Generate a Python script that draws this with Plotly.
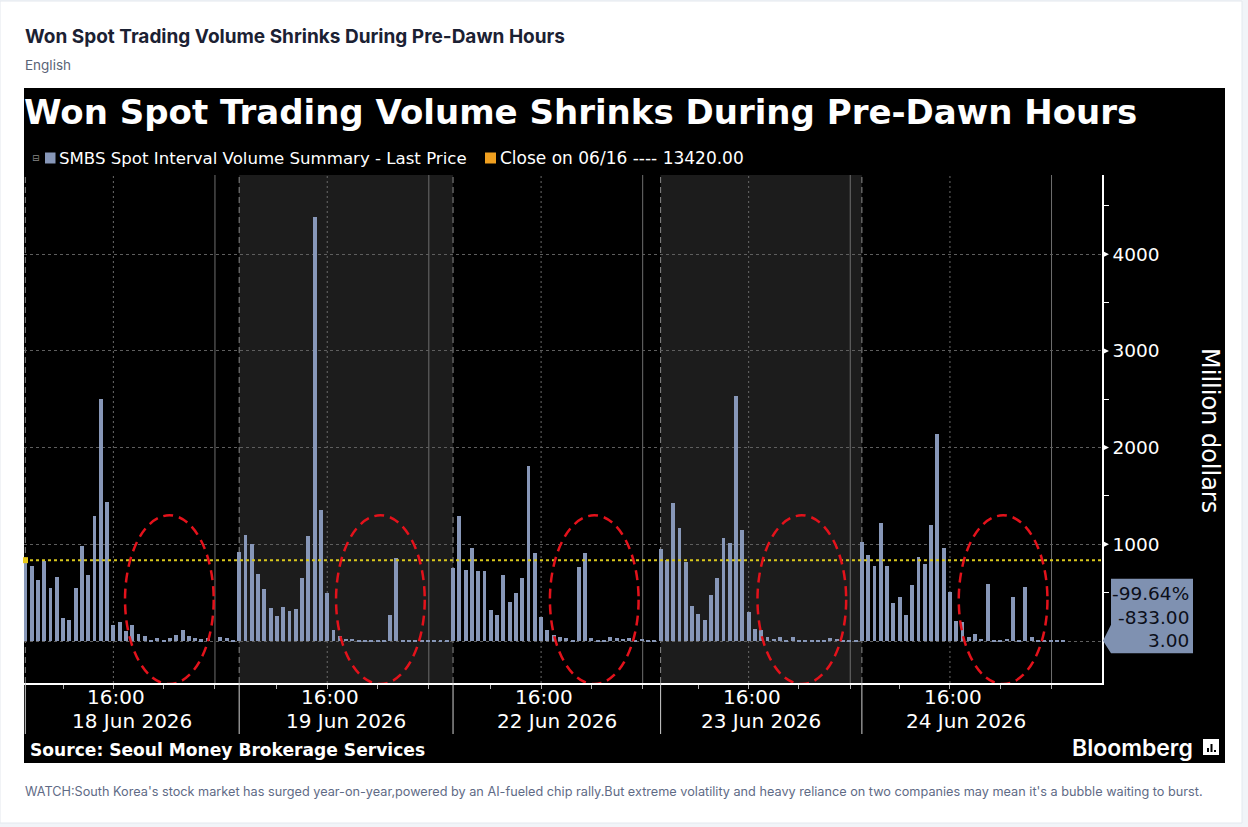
import plotly.graph_objects as go

# ---------------- data ----------------
day_labels = ["18 Jun 2026", "19 Jun 2026", "22 Jun 2026", "23 Jun 2026", "24 Jun 2026"]
vol_18jun = [820, 773, 629, 832, 546, 660, 240, 220, 546, 983, 684, 1292, 2505, 1433, 165, 192, 106,
             161, 72, 48, 11, 30, 10, 30, 58, 113, 48, 30, 20, 34, 0, 41, 30, 3]
vol_19jun = [917, 1093, 1000, 691, 536, 340, 258, 351, 309, 330, 649, 1082, 4381, 1350, 495, 113, 52,
             21, 21, 3, 2, 2, 5, 2, 268, 856, 2, 2, 5, 3, 2, 2, 2, 2]
vol_22jun = [756, 1289, 732, 962, 722, 722, 320, 271, 680, 402, 495, 649, 1814, 907, 251, 113, 62,
             41, 31, 3, 763, 907, 31, 14, 14, 41, 31, 24, 31, 14, 24, 3, 14]
vol_23jun = [948, 835, 1423, 1165, 814, 361, 278, 216, 474, 649, 1062, 1010, 2536, 1144, 299, 124, 113,
             41, 21, 41, 10, 41, 3, 3, 3, 3, 3, 31, 21, 3, 3, 3]
vol_24jun = [1021, 887, 773, 1216, 773, 392, 454, 268, 577, 866, 794, 1196, 2144, 959, 505, 206, 196,
             41, 72, 21, 588, 3, 3, 21, 454, 10, 557, 41, 10, 3, 10, 3, 3]
shaded_days = [False, True, False, True, False]
close_level = 836.0
close_label = "Close on 06/16 ---- 13420.00"
series_label = "SMBS Spot Interval Volume Summary - Last Price"
time_label = "16:00"
y_tick_vals = [0, 1000, 2000, 3000, 4000]
y_minor_vals = [500, 1500, 2500, 3500, 4500]

days = [vol_18jun, vol_19jun, vol_22jun, vol_23jun, vol_24jun]

# ---------------- layout geometry ----------------
W, H = 1248, 827
PL, PR, PT, PB = 24, 1102, 175, 683          # plot area in pixels
SLOT = 6.29
X0 = -0.21
X1 = X0 + (PR - PL) / SLOT
Y0, Y1 = -434, 4819
YPX = (PB - PT) / (Y1 - Y0)                   # px per data unit


def pxx(px):
    return (px - PL) / (PR - PL)


def pxy(py):
    return (PB - py) / (PB - PT)


# build x positions
xs, ys, starts = [], [], []
pos = 0
for vals in days:
    starts.append(pos)
    for i, v in enumerate(vals):
        xs.append(pos + i)
        ys.append(v)
    pos += len(vals)
ends = starts[1:] + [pos + 1]

fig = go.Figure()
fig.add_trace(go.Bar(x=xs, y=ys, width=0.62, marker=dict(color="#8797b8", line=dict(width=0)),
                     showlegend=False, hoverinfo="skip"))

shapes = []
# card + black panel
shapes.append(dict(type="rect", xref="paper", yref="paper", x0=pxx(0), x1=pxx(1242), y0=pxy(823), y1=pxy(1),
                   fillcolor="white", line=dict(color="#e3e8ee", width=1), layer="below"))
shapes.append(dict(type="rect", xref="paper", yref="paper", x0=pxx(24), x1=pxx(1225), y0=pxy(763), y1=pxy(88),
                   fillcolor="black", line=dict(width=0), layer="below"))
# shaded days
for s, e, sh in zip(starts, ends, shaded_days):
    if sh:
        shapes.append(dict(type="rect", xref="x", yref="paper", x0=s, x1=e, y0=0, y1=1,
                           fillcolor="#1c1c1c", line=dict(width=0), layer="below"))
# vertical lines
for s in starts:
    shapes.append(dict(type="line", xref="x", yref="paper", x0=s, x1=s, y0=0, y1=1,
                       line=dict(color="#8a8a8a", width=1, dash="6px,4px"), layer="below"))
    shapes.append(dict(type="line", xref="x", yref="paper", x0=s + 14, x1=s + 14, y0=0, y1=1,
                       line=dict(color="#6a6a6a", width=1, dash="2px,3px"), layer="below"))
    shapes.append(dict(type="line", xref="x", yref="paper", x0=s + 30.15, x1=s + 30.15, y0=0, y1=1,
                       line=dict(color="#6e6e6e", width=1), layer="below"))
    # separators in the label area
    shapes.append(dict(type="line", xref="x", yref="paper", x0=s, x1=s, y0=pxy(734), y1=0,
                       line=dict(color="#d0d0d0", width=1), layer="above"))

# close line
shapes.append(dict(type="line", xref="paper", yref="y", x0=0, x1=1, y0=close_level, y1=close_level,
                   line=dict(color="#d9c81c", width=2, dash="dot"), layer="above"))
shapes.append(dict(type="rect", xref="paper", yref="y", x0=pxx(23), x1=pxx(28),
                   y0=close_level - 3 / YPX, y1=close_level + 3 / YPX,
                   fillcolor="#e8c81a", line=dict(width=0), layer="above"))

# red dashed ellipses over the pre-dawn hours
for k, s in enumerate(starts):
    off = 0.45 if k == 0 else 0.0
    shapes.append(dict(type="circle", xref="x", yref="y", x0=s + 15.4 + off, x1=s + 29.5 + off, y0=-445, y1=1300,
                       line=dict(color="#e3121b", width=2.5, dash="10px,6px"), layer="above"))

# right-axis triangle markers
for v in y_tick_vals[1:]:
    d = 3.5 / YPX
    shapes.append(dict(type="path", xref="paper", yref="y",
                       path=f"M {pxx(PR)},{v - d} L {pxx(PR + 7)},{v} L {pxx(PR)},{v + d} Z",
                       fillcolor="white", line=dict(width=0), layer="above"))

# last value tag
last = ys[-1]
t_hi = last + 62 / YPX
t_lo = last - 12.5 / YPX
t_mid = last + 16 / YPX
tag_path = (f"M {pxx(PR + 1)},{last} L {pxx(1111)},{t_mid} L {pxx(1111)},{t_hi} "
            f"L {pxx(1193)},{t_hi} L {pxx(1193)},{t_lo} L {pxx(1111)},{t_lo} Z")
shapes.append(dict(type="path", xref="paper", yref="y", path=tag_path,
                   fillcolor="#7f91b1", line=dict(width=0), layer="above"))

# legend swatches
shapes.append(dict(type="rect", xref="paper", yref="paper", x0=pxx(45), x1=pxx(55.5), y0=pxy(163.5), y1=pxy(152.5),
                   fillcolor="#8797b8", line=dict(width=0)))
shapes.append(dict(type="rect", xref="paper", yref="paper", x0=pxx(485), x1=pxx(496), y0=pxy(163.5), y1=pxy(152.5),
                   fillcolor="#f0a020", line=dict(width=0)))
# Bloomberg icon
shapes.append(dict(type="rect", xref="paper", yref="paper", x0=pxx(1203), x1=pxx(1219), y0=pxy(755), y1=pxy(739),
                   fillcolor="white", line=dict(width=0)))
for bx, bt in [(1207, 748), (1210.5, 744), (1214, 750)]:
    shapes.append(dict(type="rect", xref="paper", yref="paper", x0=pxx(bx), x1=pxx(bx + 2), y0=pxy(752), y1=pxy(bt),
                       fillcolor="black", line=dict(width=0)))

DJ = "DejaVu Sans"
ann = []


def text(x, y, s, size, color="white", family=DJ, xanchor="left", yanchor="middle", weight=None, **kw):
    f = dict(size=size, color=color, family=family)
    if weight:
        f["weight"] = weight
    ann.append(dict(x=x, y=y, xref=kw.pop("xref", "paper"), yref=kw.pop("yref", "paper"), text=s,
                    showarrow=False, xanchor=xanchor, yanchor=yanchor, font=f, **kw))


# page header and footer
text(pxx(23), pxy(36), "Won Spot Trading Volume Shrinks During Pre-Dawn Hours", 19,
     color="#1b2133", family="Inter", weight=700)
text(pxx(23), pxy(65), "English", 13.5, color="#5a6477", family="Inter")
text(pxx(23), pxy(791),
     "WATCH:South Korea's stock market has surged year-on-year,powered by an AI-fueled chip rally."
     "But extreme volatility and heavy reliance on two companies may mean it's a bubble waiting to burst.",
     12.7, color="#5f6b86", family="Inter")

# panel texts
text(pxx(22), pxy(112), "<b>Won Spot Trading Volume Shrinks During Pre-Dawn Hours</b>", 34)
text(pxx(30), pxy(158), "⊟", 9, color="#888888")
text(pxx(57), pxy(158), series_label, 16.6)
text(pxx(498), pxy(158), close_label, 17)
text(pxx(28), pxy(750), "<b>Source: Seoul Money Brokerage Services</b>", 17.1)
text(pxx(1195), pxy(748), "Bloomberg", 23, family="Inter", xanchor="right", weight=600)
text(pxx(1210), pxy(430), "Million dollars", 24, xanchor="center", textangle=90)

# x labels
for s, vals, lab in zip(starts, days, day_labels):
    text(s + 14, pxy(697), time_label, 20, xref="x", xanchor="center", xshift=3)
    text(s + len(vals) / 2, pxy(721), lab, 20, xref="x", xanchor="center")

# tag texts
pct = (last - close_level) / close_level * 100
diff = last - close_level
for k, s in enumerate([f"{pct:.2f}%", f"{diff:.2f}", f"{last:.2f}"]):
    text(pxx(1191), last, s, 18.5, color="#0c0f1a", yref="y", xanchor="right", yshift=(2 - k) * 23.5)

tick_x = []
for s in starts:
    tick_x += [s + 6, s + 14, s + 22, s + 30.15]

fig.update_layout(
    width=W, height=H,
    margin=dict(l=PL, r=W - PR, t=PT, b=H - PB, pad=0),
    paper_bgcolor="#f1f4f8",
    plot_bgcolor="rgba(0,0,0,0)",
    shapes=shapes,
    annotations=ann,
    showlegend=False,
    bargap=0,
    xaxis=dict(range=[X0, X1], tickvals=tick_x, ticks="outside", ticklen=4, tickcolor="#b0b0b0",
               showticklabels=False, showgrid=False, zeroline=False, showline=True,
               linecolor="white", linewidth=1.5, fixedrange=True),
    yaxis=dict(range=[Y0, Y1], side="right", tickvals=y_tick_vals,
               ticktext=["" if v == 0 else str(v) for v in y_tick_vals],
               ticks="", showgrid=True, gridcolor="#5e5e5e", gridwidth=1, griddash="3px,3px",
               zeroline=False, showline=True, linecolor="white", linewidth=1.5,
               tickfont=dict(family=DJ, size=18.5, color="white"), ticklabelstandoff=5,
               minor=dict(tickvals=y_minor_vals, ticks="outside", ticklen=5, tickcolor="white",
                          showgrid=False),
               fixedrange=True),
)

fig.write_html("out.html")
